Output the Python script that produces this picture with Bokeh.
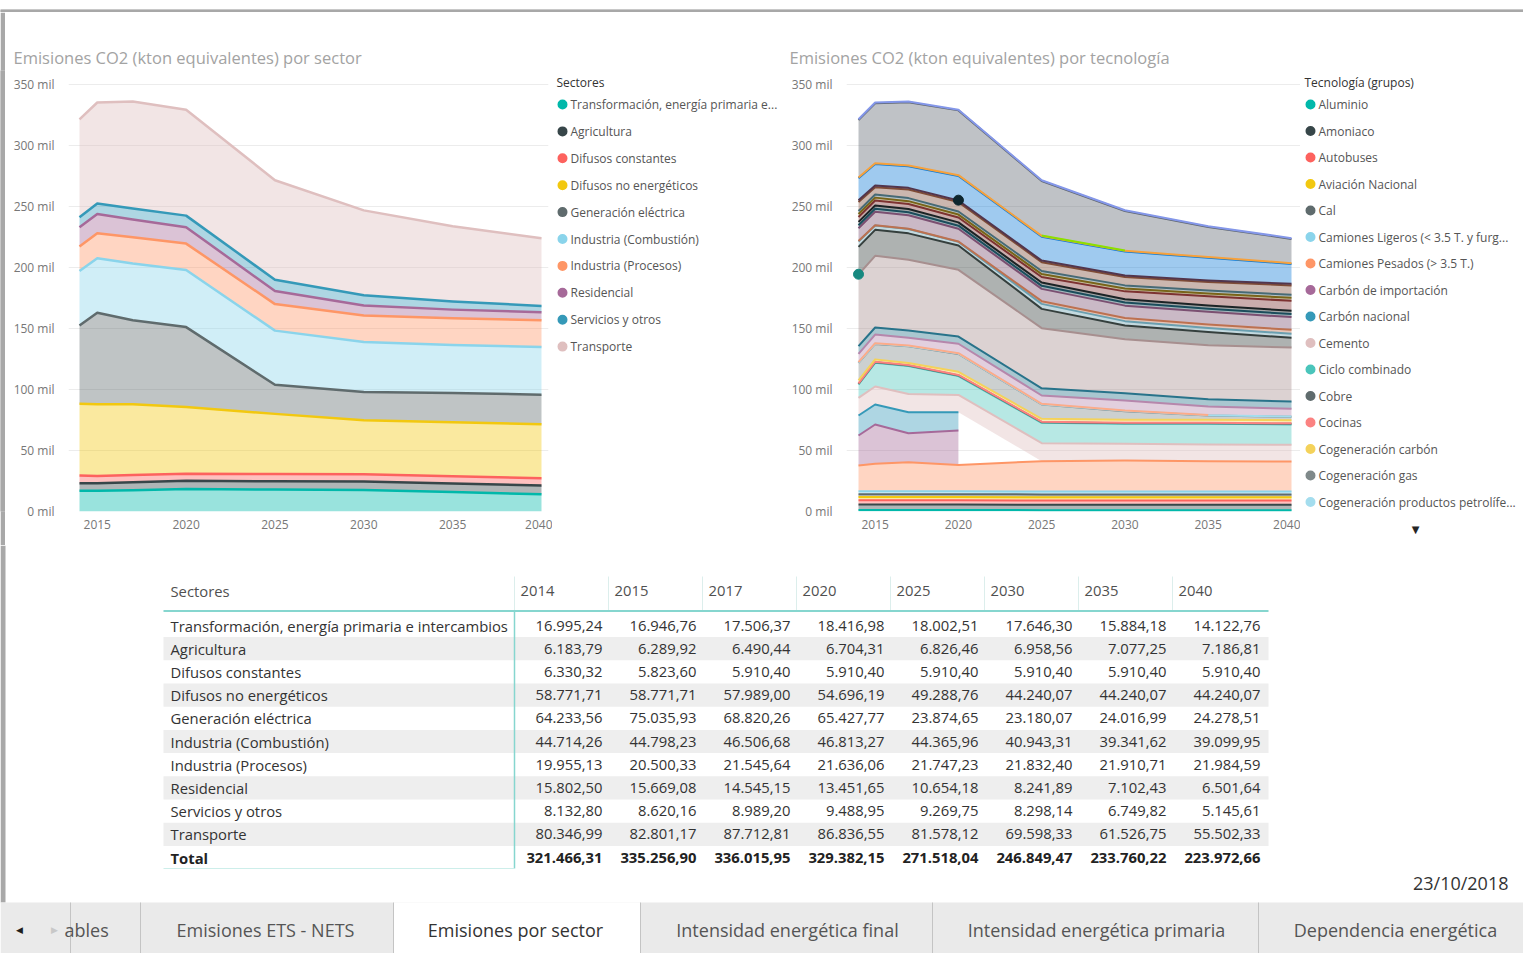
from bokeh.plotting import figure
from bokeh.models import Range1d, FixedTicker, CustomJSTickFormatter, LinearAxis
from bokeh.layouts import row, column
from bokeh.embed import file_html
from bokeh.resources import INLINE
from bokeh.core.properties import value

FONT = "Open Sans"

# ------------------------------------------------------------------ data
YEARS = [2014, 2015, 2017, 2020, 2025, 2030, 2035, 2040]
YEAR_TICKS = [2015, 2020, 2025, 2030, 2035, 2040]
Y_TICKS = [0, 50000, 100000, 150000, 200000, 250000, 300000, 350000]

# Emisiones por sector (kton CO2 eq.)
transformacion = [16995.24, 16946.76, 17506.37, 18416.98, 18002.51, 17646.30, 15884.18, 14122.76]
agricultura = [6183.79, 6289.92, 6490.44, 6704.31, 6826.46, 6958.56, 7077.25, 7186.81]
difusos_constantes = [6330.32, 5823.60, 5910.40, 5910.40, 5910.40, 5910.40, 5910.40, 5910.40]
difusos_no_energeticos = [58771.71, 58771.71, 57989.00, 54696.19, 49288.76, 44240.07, 44240.07, 44240.07]
generacion_electrica = [64233.56, 75035.93, 68820.26, 65427.77, 23874.65, 23180.07, 24016.99, 24278.51]
industria_combustion = [44714.26, 44798.23, 46506.68, 46813.27, 44365.96, 40943.31, 39341.62, 39099.95]
industria_procesos = [19955.13, 20500.33, 21545.64, 21636.06, 21747.23, 21832.40, 21910.71, 21984.59]
residencial = [15802.50, 15669.08, 14545.15, 13451.65, 10654.18, 8241.89, 7102.43, 6501.64]
servicios = [8132.80, 8620.16, 8989.20, 9488.95, 9269.75, 8298.14, 6749.82, 5145.61]
transporte = [80346.99, 82801.17, 87712.81, 86836.55, 81578.12, 69598.33, 61526.75, 55502.33]
totales = [321466.31, 335256.90, 336015.95, 329382.15, 271518.04, 246849.47, 233760.22, 223972.66]

SECTOR_NAMES = ["Transformación, energía primaria e intercambios", "Agricultura", "Difusos constantes",
                "Difusos no energéticos", "Generación eléctrica", "Industria (Combustión)",
                "Industria (Procesos)", "Residencial", "Servicios y otros", "Transporte"]
SECTOR_VALUES = [transformacion, agricultura, difusos_constantes, difusos_no_energeticos,
                 generacion_electrica, industria_combustion, industria_procesos, residencial,
                 servicios, transporte]

# Emisiones por tecnología (kton CO2 eq.)
aluminio = [1200, 1200, 1200, 1200, 1100, 1100, 1100, 1100]
amoniaco = [4500, 4500, 4500, 4500, 4500, 4500, 4500, 4500]
autobuses = [3500, 3500, 3500, 3500, 3400, 3400, 3400, 3400]
aviacion = [2600, 2600, 2600, 2600, 2600, 2600, 2600, 2600]
cal = [2400, 2400, 2400, 2400, 2400, 2400, 2400, 2400]
camiones_ligeros = [2400, 2400, 2400, 2400, 2400, 2400, 2400, 2400]
camiones_pesados = [21100, 22500, 23800, 21600, 24800, 25400, 24800, 24600]
carbon_importacion = [24600, 32200, 23800, 28200, None, None, None, None]
carbon_nacional = [16400, 16400, 17200, 15000, None, None, None, None]
cemento = [14500, 14800, 15000, 14200, 14800, 13700, 13800, 13700]
ciclo_combinado = [10900, 19400, 22800, 15400, 16700, 16400, 16900, 16700]
cobre = [500, 500, 500, 500, 500, 500, 500, 500]
cocinas = [400, 400, 400, 400, 400, 400, 400, 400]
cog_carbon = [2400, 1900, 1600, 2600, 2400, 2400, 2400, 2600]
cog_gas = [14400, 12700, 13700, 14700, 11700, 7000, 3400, 2700]
cog_petroliferos = [300, 300, 300, 300, 300, 300, 300, 300]
cog_residuos = [300, 300, 300, 300, 300, 300, 300, None]
combustion_otros = [6800, 7000, 6400, 7700, 6800, 8200, 6900, 6300]
tec_difusos_constantes = [6330, 5824, 5910, 5910, 5910, 5910, 5910, 5910]
tec_difusos_no_energeticos = [58772, 58772, 57989, 54696, 49289, 44240, 44240, 44240]
coque = [200, None, None, None, None, None, None, None]
gen_extrapeninsular = [22400, 21300, 21700, 19900, 15800, 11400, 10800, 8100]
hierro_acero = [4500, 3500, 3500, 3000, 4100, 3500, 3300, 3200]
maquinaria_agricola = [300, 300, 300, 300, 2200, 2500, 3000, 3300]
maquinaria_industrial = [10500, 11000, 11000, 10500, 10100, 10200, 10300, 10400]
navegacion = [2500, 2500, 2500, 2500, 2500, 2500, 2500, 2500]
otras_industrias = [2700, 2700, 2700, 2700, 2700, 2700, 2700, 2700]
papel = [4000, 4000, 4000, 4000, 4500, 6500, 7500, 8200]
quimica = [2400, 2400, 2400, 2400, 2400, 2400, 2400, 2400]
refino_otros = [2500, 2500, 2500, 2500, 2500, 2500, 2500, 2500]
residencial_tec = [7500, 6100, 7100, 7700, 7300, 6800, 6800, 7700]
servicios_tec = [1300, 1300, 1300, 1300, 1300, 1300, 1300, 1300]
siderurgia = [None, None, None, 300, None, None, None, None]
refinerias = [18000, 17700, 17700, 19900, 19600, 19600, 18600, 16300]
ferrocarril = [600, 600, 600, 600, 600, 600, 600, 600]
maritimo = [None, None, None, None, 300, 300, None, None]
turismos = [47200, 49200, 51800, 53100, 44700, 32400, 24700, 19900]
vidrio = [600, 600, 600, 600, 600, 600, 600, 600]

TECH_NAMES = ["Aluminio", "Amoniaco", "Autobuses", "Aviación Nacional", "Cal",
              "Camiones Ligeros (< 3.5 T. y furgonetas)", "Camiones Pesados (> 3.5 T.)",
              "Carbón de importación", "Carbón nacional", "Cemento", "Ciclo combinado", "Cobre",
              "Cocinas", "Cogeneración carbón", "Cogeneración gas", "Cogeneración productos petrolíferos",
              "Cogeneración residuos", "Combustión otros", "Difusos constantes", "Difusos no energéticos",
              "Fabricación de coque", "Generación extrapeninsular", "Hierro y acero", "Maquinaria agrícola",
              "Maquinaria industrial", "Navegación", "Otras industrias", "Papel", "Química", "Refino otros",
              "Residencial", "Servicios", "Siderurgia", "Refinerías", "Transporte ferroviario",
              "Transporte marítimo", "Turismos", "Vidrio"]
TECH_VALUES = [aluminio, amoniaco, autobuses, aviacion, cal, camiones_ligeros, camiones_pesados,
               carbon_importacion, carbon_nacional, cemento, ciclo_combinado, cobre, cocinas, cog_carbon,
               cog_gas, cog_petroliferos, cog_residuos, combustion_otros, tec_difusos_constantes,
               tec_difusos_no_energeticos, coque, gen_extrapeninsular, hierro_acero, maquinaria_agricola,
               maquinaria_industrial, navegacion, otras_industrias, papel, quimica, refino_otros,
               residencial_tec, servicios_tec, siderurgia, refinerias, ferrocarril, maritimo, turismos, vidrio]
TECH_LEGEND_COUNT = 16

TAB_LABELS = ["ables", "Emisiones ETS - NETS", "Emisiones por sector", "Intensidad energética final",
              "Intensidad energética primaria", "Dependencia energética"]
REPORT_DATE = "23/10/2018"

# ------------------------------------------------------------------ styles
SECTOR_COLORS = ["#01B8AA", "#374649", "#FD625E", "#F2C80F", "#5F6B6D",
                 "#8AD4EB", "#FE9666", "#A66999", "#3599B8", "#DFBFBF"]
TECH_COLORS = ["#01B8AA", "#374649", "#FD625E", "#F2C80F", "#5F6B6D", "#8AD4EB", "#FE9666",
               "#A66999", "#3599B8", "#DFBFBF", "#4AC5BB", "#5F6B6D", "#FB8281", "#F4D25A",
               "#7F898A", "#A4DDEE", "#FDAB89", "#B687AC", "#28738A", "#A78F8F", "#168980",
               "#353F3D", "#6A9FB0", "#BD7150", "#7B4F71", "#1B4D5C", "#1C2325", "#7D3231",
               "#796419", "#476A75", "#7E4B36", "#52354C", "#0D262E", "#0E7BD6", "#F7A13B",
               "#8BE000", "#5F6670", "#8497E9"]
FRAME_GRAY = "#a8a8a8"
AXIS_TEXT = "#777777"
ROW_TOP, FRAME_TOP, FRAME_BOTTOM, ROW_BOTTOM = 12, 70, 511, 545


def est_width(s, px):
    w = {"i": .24, "l": .24, "j": .24, "í": .24, "I": .27, "f": .33, "t": .33, "r": .41, " ": .26,
         ".": .25, ",": .25, "(": .3, ")": .3, "m": .92, "w": .77, "s": .47, "c": .48, "v": .5,
         "y": .5, "k": .53, "<": .57, ">": .57}
    tot = 0.0
    for ch in s:
        if ch in w:
            tot += w[ch]
        elif ch.isdigit():
            tot += .57
        elif ch.isupper():
            tot += .63
        else:
            tot += .57
    return tot * px


def truncate(name, limit, px=12):
    if est_width(name, px) <= limit:
        return name
    for k in range(len(name), 0, -1):
        pre = name[:k].rstrip()
        if est_width(pre + "...", px) <= limit:
            return pre + "..."
    return name


def stack_chart(p, series, colors, line_width, alpha):
    n = len(YEARS)
    base = [0.0] * n
    lines, dots = [], []
    for vals, col in zip(series, colors):
        upper = [b + (v if v is not None else 0.0) for b, v in zip(base, vals)]
        spans = []
        for i, v in enumerate(vals):
            if v is None:
                continue
            if spans and spans[-1][-1] == i - 1:
                spans[-1].append(i)
            else:
                spans.append([i])
        for sp in spans:
            xs = [YEARS[i] for i in sp]
            lo = [base[i] for i in sp]
            hi = [upper[i] for i in sp]
            if len(sp) == 1:
                dots.append((xs, hi, col))
            else:
                p.varea(x=xs, y1=lo, y2=hi, fill_color=col, fill_alpha=alpha)
                lines.append((xs, hi, col))
        base = upper
    for xs, hi, col in lines:
        p.line(x=xs, y=hi, line_color=col, line_width=line_width, line_join="round")
    for xs, hi, col in dots:
        p.scatter(x=xs, y=hi, marker="circle", size=10, fill_color=col, line_color=col)


def chart(title, x0, x1, width, border_left, border_right, title_offset):
    p = figure(width=width, height=ROW_BOTTOM - ROW_TOP, x_range=Range1d(x0, x1),
               y_range=Range1d(0, 361500), toolbar_location=None, output_backend="svg", title=title,
               min_border_left=border_left, min_border_right=border_right,
               min_border_top=FRAME_TOP - ROW_TOP, min_border_bottom=ROW_BOTTOM - FRAME_BOTTOM)
    p.title.text_font = FONT
    p.title.text_font_size = "16.5px"
    p.title.text_font_style = "normal"
    p.title.text_color = "#a3a3a3"
    p.title.align = "left"
    p.title.offset = title_offset
    p.title.standoff = 4
    p.outline_line_color = None
    p.background_fill_color = "white"
    p.border_fill_color = "white"
    p.xgrid.visible = False
    p.ygrid.grid_line_color = "#ececec"
    p.ygrid.grid_line_width = 1
    p.yaxis.ticker = FixedTicker(ticks=Y_TICKS)
    p.yaxis.formatter = CustomJSTickFormatter(code="return (tick/1000).toFixed(0) + ' mil';")
    p.xaxis.ticker = FixedTicker(ticks=YEAR_TICKS)
    for ax in (p.xaxis[0], p.yaxis[0]):
        ax.axis_line_color = None
        ax.major_tick_line_color = None
        ax.minor_tick_line_color = None
        ax.major_label_text_font = FONT
        ax.major_label_text_font_size = "12px"
        ax.major_label_text_color = AXIS_TEXT
    p.yaxis.major_label_standoff = 8
    p.xaxis.major_label_standoff = 2
    return p


def plain(width, height, x0, x1, y0, y1, top=0, bottom=0, bg="white", border="white"):
    f = figure(width=width, height=height, x_range=Range1d(x0, x1), y_range=Range1d(y0, y1),
               toolbar_location=None, output_backend="svg", min_border=0,
               min_border_top=top, min_border_bottom=bottom,
               x_axis_location=None, y_axis_location=None)
    f.outline_line_color = None
    f.grid.visible = False
    f.background_fill_color = bg
    f.border_fill_color = border
    return f


def legend_fig(x0, x1, title, names, colors, limit, pitch):
    f = plain(x1 - x0, ROW_BOTTOM - ROW_TOP, x0, x1, FRAME_BOTTOM, FRAME_TOP,
              top=FRAME_TOP - ROW_TOP, bottom=ROW_BOTTOM - FRAME_BOTTOM)
    ys = [104 + pitch * i for i in range(len(names))]
    f.scatter(x=[x0 + 10] * len(names), y=ys, marker="circle", size=10, fill_color=colors, line_color=None)
    f.text(x=[x0 + 18] * len(names), y=ys, text=[truncate(nm, limit) for nm in names],
           text_font=value(FONT), text_font_size="12px", text_color="#555555",
           text_align="left", text_baseline="middle")
    f.text(x=[x0 + 4], y=[82], text=[title], text_font=value(FONT), text_font_size="12px",
           text_color="#333333", text_align="left", text_baseline="middle")
    return f


# ------------------------------------------------------------------ charts
p_left = chart("Emisiones CO2 (kton equivalentes) por sector", 2013.381, 2040.394, 547, 63, 4, -55)
stack_chart(p_left, SECTOR_VALUES, SECTOR_COLORS, 2.5, 0.4)

p_right = chart("Emisiones CO2 (kton equivalentes) por tecnología", 2013.279, 2040.54, 512, 58, 0, -57)
stack_chart(p_right, TECH_VALUES, TECH_COLORS, 2, 0.4)

leg_left = legend_fig(552, 788, "Sectores", SECTOR_NAMES, SECTOR_COLORS, 206, 26.9)
leg_right = legend_fig(1300, 1523, "Tecnología (grupos)", TECH_NAMES[:TECH_LEGEND_COUNT],
                       TECH_COLORS[:TECH_LEGEND_COUNT], 193, 26.5)
# scroll indicator under the legend
more_axis = LinearAxis(ticker=FixedTicker(ticks=[1415]), major_label_overrides={1415: "▼"},
                       axis_line_color=None, major_tick_line_color=None, minor_tick_line_color=None,
                       major_label_text_font="DejaVu Sans", major_label_text_font_size="10px",
                       major_label_text_color="#252525", major_label_standoff=6)
leg_right.add_layout(more_axis, "below")

topstrip = plain(1523, ROW_TOP, 0, 1, 0, 1, top=9, bottom=0, bg=FRAME_GRAY, border="white")
topstrip.quad(left=[0], right=[1], bottom=[0], top=[1], fill_color=FRAME_GRAY, line_color=None)
leftbar = plain(5, ROW_BOTTOM - ROW_TOP, 0, 1, 0, 1, top=FRAME_TOP - ROW_TOP,
                bottom=ROW_BOTTOM - FRAME_BOTTOM, bg=FRAME_GRAY, border=FRAME_GRAY)
leftbar.quad(left=[0], right=[1], bottom=[0], top=[1], fill_color=FRAME_GRAY, line_color=None)

# ------------------------------------------------------------------ table, date, tabs
bot = plain(1523, 953 - ROW_BOTTOM, 0, 1523, 953, ROW_BOTTOM)
bot.quad(left=[0], right=[5], top=[ROW_BOTTOM], bottom=[902], fill_color=FRAME_GRAY, line_color=None)

col_edges = [514 + 94 * i for i in range(len(YEARS) + 1)]
row_y = [625 + 23.2 * i for i in range(len(SECTOR_NAMES) + 1)]
stripe_rows = [i for i in range(len(SECTOR_NAMES)) if i % 2 == 1]
bot.quad(left=[163] * len(stripe_rows), right=[1268] * len(stripe_rows),
         top=[row_y[i] - 11.6 for i in stripe_rows], bottom=[row_y[i] + 11.6 for i in stripe_rows],
         fill_color="#eeeeee", line_color=None)
bot.segment(x0=col_edges[:-1], y0=[576] * len(YEARS), x1=col_edges[:-1], y1=[610] * len(YEARS),
            line_color="#dceeec", line_width=1)
bot.segment(x0=[163], y0=[610.5], x1=[1268], y1=[610.5], line_color="#86d6cf", line_width=2)
bot.segment(x0=[514], y0=[611], x1=[514], y1=[868], line_color="#86d6cf", line_width=1.5)
bot.segment(x0=[163], y0=[868], x1=[514], y1=[868], line_color="#cdeeea", line_width=1)

hdr_x = [170] + [e + 6 for e in col_edges[:-1]]
bot.text(x=hdr_x, y=[590] * len(hdr_x), text=["Sectores"] + [str(y) for y in YEARS],
         text_font=value(FONT), text_font_size="14.8px", text_color="#505050",
         text_align="left", text_baseline="middle")


def es_num(v):
    s = f"{v:,.2f}"
    return s.replace(",", "X").replace(".", ",").replace("X", ".")


bot.text(x=[170] * len(SECTOR_NAMES), y=row_y[:-1], text=SECTOR_NAMES,
         text_font=value(FONT), text_font_size="14.8px", text_color="#333333",
         text_align="left", text_baseline="middle")
vx, vy, vt = [], [], []
for r, vals in enumerate(SECTOR_VALUES):
    for c, v in enumerate(vals):
        vx.append(col_edges[c + 1] - 6)
        vy.append(row_y[r])
        vt.append(es_num(v))
bot.text(x=vx, y=vy, text=vt, text_font=value(FONT), text_font_size="14.8px", text_color="#333333",
         text_align="right", text_baseline="middle")
bot.text(x=[170], y=[row_y[-1]], text=["Total"], text_font=value(FONT), text_font_size="14.8px",
         text_font_style="bold", text_color="#222222", text_align="left", text_baseline="middle")
bot.text(x=[col_edges[c + 1] - 6 for c in range(len(YEARS))], y=[row_y[-1]] * len(YEARS),
         text=[es_num(v) for v in totales], text_font=value(FONT), text_font_size="14.8px",
         text_font_style="bold", text_color="#222222", text_align="right", text_baseline="middle")

bot.text(x=[1508], y=[882], text=[REPORT_DATE], text_font=value(FONT), text_font_size="18px",
         text_color="#333333", text_align="right", text_baseline="middle")

# tab strip
bot.quad(left=[0], right=[1523], top=[902], bottom=[953], fill_color="#eaeaea", line_color=None)
bot.quad(left=[393], right=[640], top=[902], bottom=[953], fill_color="white", line_color=None)
seps = [70, 140, 393, 640, 932, 1258]
bot.segment(x0=seps, y0=[902] * len(seps), x1=seps, y1=[953] * len(seps), line_color="#c4c4c4", line_width=1)
bot.text(x=[19], y=[929], text=["◀"], text_font=value("DejaVu Sans"), text_font_size="9px",
         text_color="#1e1e1e", text_align="center", text_baseline="middle")
bot.text(x=[54], y=[929], text=["▶"], text_font=value("DejaVu Sans"), text_font_size="9px",
         text_color="#c8c8c8", text_align="center", text_baseline="middle")
bot.text(x=[64], y=[929], text=[TAB_LABELS[0]], text_font=value(FONT), text_font_size="18px",
         text_color="#555555", text_align="left", text_baseline="middle")
tab_cx = [265, 515, 787, 1096, 1395]
bot.text(x=tab_cx, y=[929] * len(tab_cx), text=TAB_LABELS[1:], text_font=value(FONT),
         text_font_size="18px", text_color=["#555555", "#333333", "#555555", "#555555", "#555555"],
         text_align="center", text_baseline="middle")

layout = column(topstrip, row(leftbar, p_left, leg_left, p_right, leg_right), bot)
open("out.html", "w").write(file_html(layout, INLINE))
